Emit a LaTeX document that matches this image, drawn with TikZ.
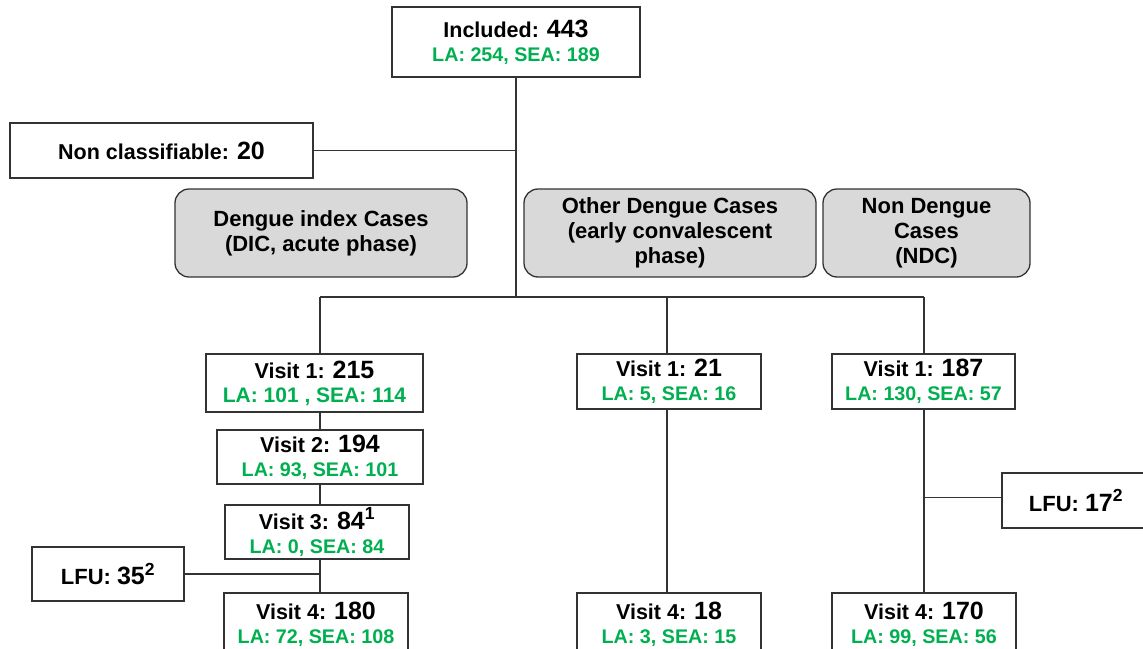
\documentclass[tikz,border=0pt]{standalone}
\usepackage{fontspec}
\setmainfont{Liberation Sans}
\usetikzlibrary{calc}
\definecolor{lagreen}{RGB}{0,176,80}
\definecolor{boxgray}{RGB}{217,217,217}
\newcommand{\cnum}[1]{{\fontsize{25}{25}\selectfont #1}}
\newcommand{\grn}[2][19.7]{{\color{lagreen}\fontsize{#1}{24}\selectfont #2}}
\tikzset{
	box/.style={draw=black!80,line width=1.3pt,fill=white,align=center,inner sep=0pt,font=\fontsize{21.5}{24}\selectfont\bfseries},
	lfu/.style={box,font=\fontsize{22}{24}\selectfont\bfseries},
	grp/.style={box,rounded corners=14pt,fill=boxgray,font=\fontsize{22}{25}\selectfont\bfseries},
	link/.style={draw=black!80,line width=1.3pt}}

\begin{document}
\begin{tikzpicture}[x=1pt,y=-1pt]
	\useasboundingbox (0,0) rectangle (1143,648);
	\clip (0,0) rectangle (1143,648);
	\coordinate (bus) at (516,297);
	\coordinate (colA) at (320,297);
	\coordinate (colB) at (667,297);
	\coordinate (colC) at (924,297);
	\node (incl) at (516,42) [box,minimum width=248,minimum height=70] {Included: \cnum{443}\\ \grn{LA: 254, SEA: 189}};
	\node (noncl) at (161.5,150.5) [box,minimum width=303,minimum height=55] {Non classifiable: \cnum{20}};
	\node (dic) at (321,233) [grp,minimum width=292,minimum height=88] {Dengue index Cases\\(DIC, acute phase)};
	\node (odc) at (670,233) [grp,minimum width=292,minimum height=88] {Other Dengue Cases\\(early convalescent\\phase)};
	\node (ndc) at (926.5,233) [grp,minimum width=207,minimum height=88] {Non Dengue\\Cases\\(NDC)};
	\node (v1a) at (314.5,383) [box,minimum width=217,minimum height=58] {Visit 1: \cnum{215}\\ \grn[21]{LA: 101 , SEA: 114}};
	\node (v2a) at (320,457) [box,minimum width=206,minimum height=54] {Visit 2: \cnum{194}\\ \grn{LA: 93, SEA: 101}};
	\node (v3a) at (317,532) [box,minimum width=184,minimum height=54] {Visit 3: \cnum{84\textsuperscript{1}}\\ \grn{LA: 0, SEA: 84}};
	\node (lfuA) at (108,574) [lfu,minimum width=152,minimum height=54] {LFU: \cnum{35\textsuperscript{2}}};
	\node (v4a) at (316,624) [box,minimum width=184,minimum height=62] {Visit 4: \cnum{180}\\ \grn{LA: 72, SEA: 108}};
	\node (v1b) at (669,381.5) [box,minimum width=184,minimum height=55] {Visit 1: \cnum{21}\\ \grn{LA: 5, SEA: 16}};
	\node (v4b) at (669,624) [box,minimum width=184,minimum height=62] {Visit 4: \cnum{18}\\ \grn{LA: 3, SEA: 15}};
	\node (v1c) at (923.5,381.5) [box,minimum width=183,minimum height=55] {Visit 1: \cnum{187}\\ \grn{LA: 130, SEA: 57}};
	\node (lfuC) at (1076,500.5) [lfu,minimum width=148,minimum height=55] {LFU: \cnum{17\textsuperscript{2}}};
	\node (v4c) at (924,624) [box,minimum width=184,minimum height=62] {Visit 4: \cnum{170}\\ \grn{LA: 99, SEA: 56}};
	% tree
	\draw [link] (incl) -- (bus);
	\draw [link] (noncl.east) -- (noncl.east -| bus);
	\draw [link] (colA) -- (colC);
	\draw [link] (colA) -- (v1a.north -| colA);
	\draw [link] (colB) -- (v1b.north -| colB);
	\draw [link] (colC) -- (v1c.north -| colC);
	\draw [link] (v1a.south -| colA) -- (v2a.north -| colA);
	\draw [link] (v2a.south -| colA) -- (v3a.north -| colA);
	\draw [link] (v3a.south -| colA) -- (v4a.north -| colA);
	\draw [link] (lfuA.east) -- (lfuA.east -| colA);
	\draw [link] (v1b.south -| colB) -- (v4b.north -| colB);
	\draw [link] (v1c.south -| colC) -- (v4c.north -| colC);
	\draw [link] (lfuC.west) ++(0,-3) coordinate (lfuCin) -- (lfuCin -| colC);
\end{tikzpicture}
\end{document}
